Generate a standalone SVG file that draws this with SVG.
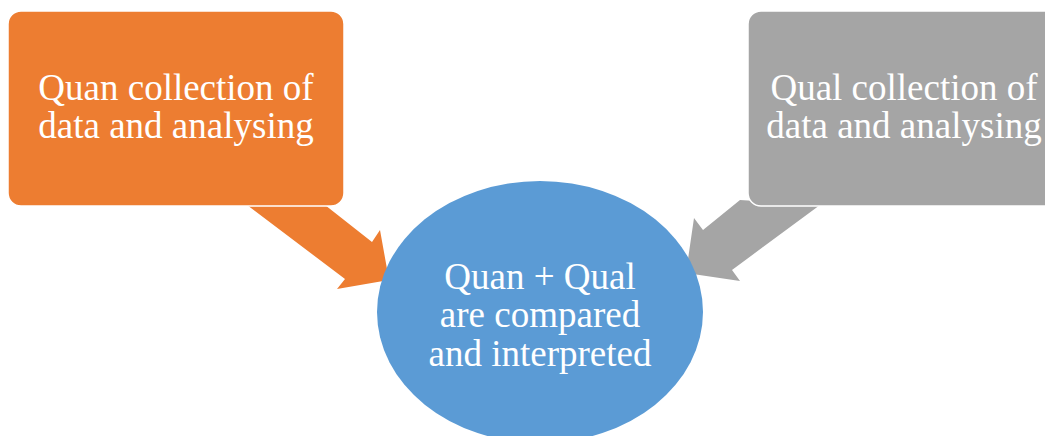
<svg xmlns="http://www.w3.org/2000/svg" width="1045" height="436" viewBox="0 0 1045 436">
<style>
.t{font-family:"Liberation Serif","Times New Roman",serif;font-size:37px;fill:#fff;text-anchor:middle}
.box{stroke:#fff;stroke-width:1.5}
</style>
<rect width="1045" height="436" fill="#fff"/>
<g id="connectors">
<polygon points="247,205 325,205 372,242 380,230 389,280 337,289 345,279" fill="#ED7D31"/>
<polygon points="820,205 740,200 703,230 694,218 686,273 740,281 732,270" fill="#A5A5A5"/>
</g>
<g id="quan">
<rect class="box" x="8" y="11" width="336" height="195" rx="13" fill="#ED7D31"/>
<text class="t" x="176" y="100">Quan collection of</text>
<text class="t" x="176" y="138">data and analysing</text>
</g>
<g id="qual">
<rect class="box" x="748" y="11" width="336" height="195" rx="13" fill="#A5A5A5"/>
<text class="t" x="904" y="100">Qual collection of</text>
<text class="t" x="904" y="138">data and analysing</text>
</g>
<g id="combined">
<ellipse cx="540" cy="312" rx="163" ry="131" fill="#5B9BD5"/>
<text class="t" x="540" y="289">Quan + Qual</text>
<text class="t" x="540" y="327">are compared</text>
<text class="t" x="540" y="366">and interpreted</text>
</g>
</svg>
